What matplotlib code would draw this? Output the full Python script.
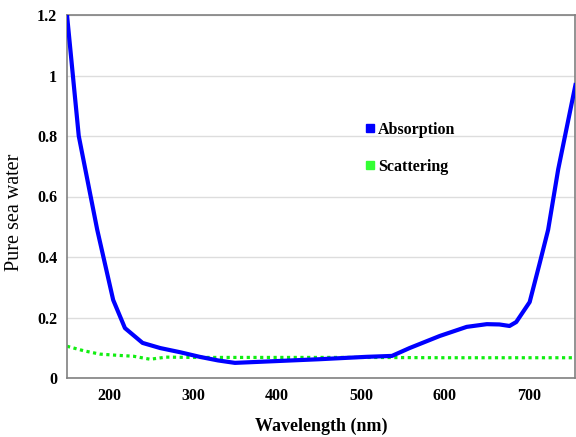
import matplotlib.pyplot as plt
from matplotlib.lines import Line2D

plt.rcParams['font.family'] = ['Liberation Serif', 'DejaVu Serif']
plt.rcParams['font.weight'] = 'bold'
plt.rcParams['axes.labelweight'] = 'bold'

# absorption of pure sea water (blue line)
abs_wl = [150, 164, 186, 205, 219, 240, 261, 285, 308, 330, 350, 400, 450,
          507, 537, 558, 594, 626, 650, 665, 677, 685, 701, 713, 723, 735, 756]
abs_val = [1.2, 0.80, 0.49, 0.258, 0.165, 0.116, 0.099, 0.085, 0.07, 0.058,
           0.05, 0.056, 0.062, 0.07, 0.073, 0.099, 0.139, 0.169, 0.178, 0.177,
           0.172, 0.185, 0.251, 0.38, 0.49, 0.69, 0.975]

# scattering (green dotted line)
sca_wl = [150, 170, 189, 210, 229, 249, 268, 300, 400, 500, 600, 700, 756]
sca_val = [0.105, 0.09, 0.079, 0.075, 0.072, 0.062, 0.069, 0.068, 0.068,
           0.068, 0.067, 0.067, 0.067]

fig = plt.figure(figsize=(5.76, 4.37), dpi=100)
ax = fig.add_axes([67 / 576, 59 / 437, 508 / 576, 363 / 437])

ax.plot(abs_wl, abs_val, color='#0000ff', lw=3, solid_capstyle='butt', zorder=3)
ax.plot(sca_wl, sca_val, color='#11ee11', lw=2.3, ls=(0, (1, 1.1)),
        dash_capstyle='butt', zorder=2)

ax.set_xlim(150, 755)
ax.set_ylim(0, 1.2)
ax.set_xticks([200, 300, 400, 500, 600, 700])
ax.set_yticks([0, 0.2, 0.4, 0.6, 0.8, 1.0, 1.2])
ax.set_yticklabels(['0', '0.2', '0.4', '0.6', '0.8', '1', '1.2'])
ax.tick_params(length=0, labelsize=11.5, pad=7)
ax.grid(axis='y', color='#dddddd', lw=1)
ax.set_axisbelow(True)
for s in ['left', 'bottom', 'top', 'right']:
    ax.spines[s].set_color('#808080')
    ax.spines[s].set_linewidth(1.2)

ax.set_xlabel('Wavelength (nm)', fontsize=13, labelpad=10)
ax.set_ylabel('Pure sea water', fontsize=14.5, fontweight='normal')
ax.yaxis.set_label_coords(-0.085, 0.457)

handles = [Line2D([], [], ls='none', marker='s', ms=6, color='#0000ff'),
           Line2D([], [], ls='none', marker='s', ms=6, color='#33ff33')]
ax.legend(handles, ['Absorption', 'Scattering'], loc='upper left',
          bbox_to_anchor=(0.56, 0.745), frameon=False, handlelength=0.5,
          handletextpad=0.25, labelspacing=1.3, fontsize=11.5)

fig.savefig('out.png', dpi=100)
